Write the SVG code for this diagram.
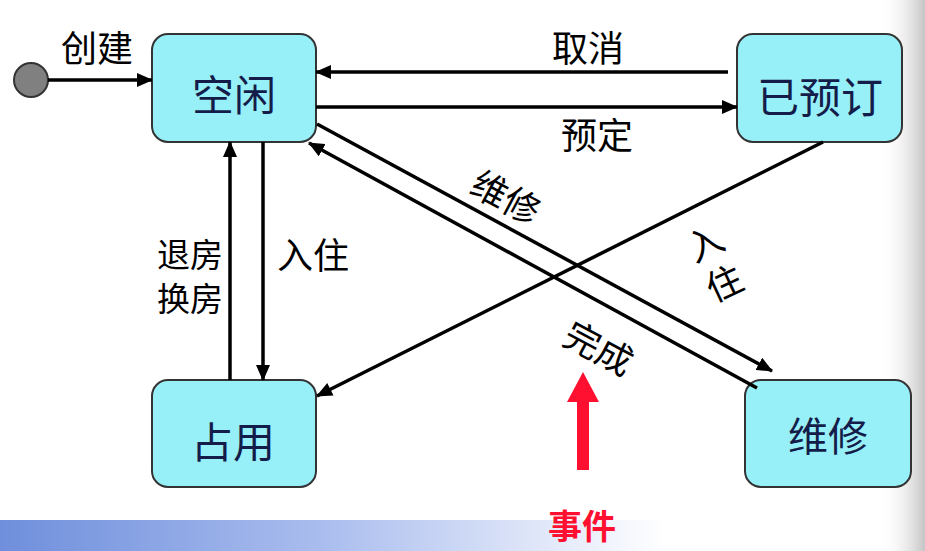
<svg xmlns="http://www.w3.org/2000/svg" width="925" height="551" viewBox="0 0 925 551">
<defs>
<linearGradient id="band" x1="0" y1="0" x2="1" y2="0">
<stop offset="0" stop-color="#6f8fdc"/>
<stop offset="0.35" stop-color="#aabdee"/>
<stop offset="0.72" stop-color="#ffffff"/>
</linearGradient>
<linearGradient id="edge" x1="0" y1="0" x2="1" y2="0">
<stop offset="0" stop-color="#ffffff" stop-opacity="0"/>
<stop offset="1" stop-color="#c4c4c4"/>
</linearGradient>
<marker id="ah" markerUnits="userSpaceOnUse" markerWidth="16" markerHeight="14" refX="15" refY="7" orient="auto">
<path d="M0,0 L16,7 L0,14 z" fill="#000"/>
</marker>
</defs>
<style>
.node{fill:#97eff8;stroke:#333;stroke-width:2}
.nt{font-family:"Noto Sans CJK SC","Noto Sans",sans-serif;font-size:42px;fill:#141c4a;text-anchor:middle;dominant-baseline:central}
.lb{font-family:"Noto Sans CJK SC","Noto Sans",sans-serif;font-size:36px;fill:#000;text-anchor:middle;dominant-baseline:central}
.ln{stroke:#000;stroke-width:3.5;fill:none;marker-end:url(#ah)}
</style>
<rect x="0" y="0" width="925" height="551" fill="#fff"/>
<rect x="0" y="520" width="925" height="31" fill="url(#band)"/>
<rect x="880" y="0" width="45" height="551" fill="url(#edge)"/>

<g id="start">
<circle cx="31" cy="80" r="17" fill="#808080" stroke="#333" stroke-width="2"/>
</g>
<g id="kongxian">
<rect class="node" x="152" y="34" width="164" height="108" rx="16"/>
<text class="nt" x="234" y="92">空闲</text>
</g>
<g id="yiyuding">
<rect class="node" x="737" y="34" width="165" height="108" rx="16"/>
<text class="nt" x="820" y="94">已预订</text>
</g>
<g id="zhanyong">
<rect class="node" x="152" y="380" width="164" height="107" rx="16"/>
<text class="nt" x="233" y="439">占用</text>
</g>
<g id="weixiu">
<rect class="node" x="745" y="380" width="166" height="107" rx="16"/>
<text class="nt" x="828" y="434" style="font-size:40px">维修</text>
</g>

<g id="connectors">
<path class="ln" d="M48,80 L152,80"/>
<path class="ln" d="M728,72 L316,72"/>
<path class="ln" d="M316,107 L737,107"/>
<path class="ln" d="M230,380 L230,142"/>
<path class="ln" d="M263,142 L263,380"/>
<path class="ln" d="M317,124 L772,371"/>
<path class="ln" d="M757,388 L309,143"/>
<path class="ln" d="M823,142 L317,396"/>
</g>

<g id="labels">
<text class="lb" x="97" y="46">创建</text>
<text class="lb" x="588" y="46">取消</text>
<text class="lb" x="597" y="133">预定</text>
<text class="lb" x="190" y="253" style="font-size:33px">退房</text>
<text class="lb" x="190" y="297" style="font-size:33px">换房</text>
<text class="lb" x="313" y="253">入住</text>
<text class="lb" x="507" y="195" transform="rotate(28 507 195)">维修</text>
<text class="lb" x="600" y="346" transform="rotate(28 600 346)">完成</text>
<text class="lb" x="704" y="241" transform="rotate(-25 704 241)">入</text>
<text class="lb" x="723" y="281" transform="rotate(-25 723 281)">住</text>
</g>

<g id="event">
<polygon points="583,372 567,402 577,402 577,470 589,470 589,402 599,402" fill="#ff1030"/>
<text x="582" y="524" font-family="'Noto Sans CJK SC',sans-serif" font-size="34" font-weight="bold" fill="#ff1030" text-anchor="middle" dominant-baseline="central">事件</text>
</g>
</svg>
